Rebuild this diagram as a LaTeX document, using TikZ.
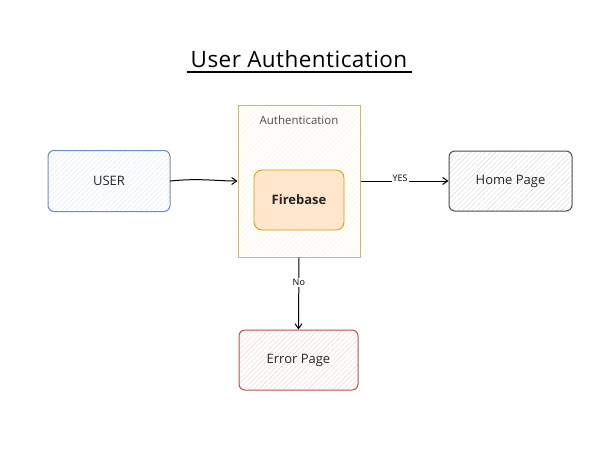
\documentclass[tikz,border=0pt]{standalone}
\usepackage{fontspec}
\setmainfont{Open Sans}
\usetikzlibrary{patterns.meta,arrows.meta}
\definecolor{bluefill}{HTML}{DAE8FC}
\definecolor{blueline}{HTML}{6C8EBF}
\definecolor{yelfill}{HTML}{FFF8E6}
\definecolor{yelline}{HTML}{D6B656}
\definecolor{orfill}{HTML}{FFE6CC}
\definecolor{orline}{HTML}{D79B00}
\definecolor{redfill}{HTML}{F8CECC}
\definecolor{redline}{HTML}{B85450}
\tikzset{
  sketchbox/.style 2 args={draw=#1, line width=1pt, rounded corners=6pt,
    pattern={Lines[angle=45,distance=3.5pt,line width=0.4pt]}, pattern color=#2,
    preaction={fill=white}},
  lbl/.style={font=\fontsize{13}{15}\selectfont, text=black!85},
  conn/.style={line width=1pt, -{Straight Barb[length=5pt,width=7pt]}},
  edgelbl/.style={font=\fontsize{9}{10}\selectfont, fill=white, inner sep=1pt}
}
\begin{document}
\begin{tikzpicture}[x=1pt,y=-1pt]
\useasboundingbox[fill=white] (0,0) rectangle (600,450);
% title
\node (title) at (299,59) {\fontsize{22.5}{26}\selectfont\addfontfeatures{LetterSpace=2} User Authentication};
\draw[line width=1.6pt] (187,72) -- (412,72);
% nodes
\node[sketchbox={blueline}{bluefill}, minimum width=122pt, minimum height=61pt, lbl] (user) at (109,181) {USER};
\node[sketchbox={yelline}{yelfill!60!orfill}, rounded corners=0pt, minimum width=122pt, minimum height=152pt] (auth) at (299,181) {};
\node[text=black!70, font=\fontsize{11.5}{13}\selectfont] (authlbl) at (299,120) {Authentication};
\node[draw=orline, fill=orfill, line width=0.8pt, rounded corners=8pt, minimum width=90pt, minimum height=60pt, font=\fontsize{13}{15}\selectfont\bfseries, text=black!85] (fire) at (299,200) {Firebase};
\node[sketchbox={black!70}{black!15}, minimum width=123pt, minimum height=60pt, lbl] (home) at (510.5,181) {Home Page};
\node[sketchbox={redline}{redfill}, minimum width=119pt, minimum height=60pt, lbl] (err) at (298.5,360) {Error Page};
% connectors
\draw[conn] (user.east) .. controls (200,178) and (215,181) .. (auth.west);
\draw[conn] (auth.east) -- node[edgelbl, pos=0.45, yshift=3pt] {YES} (home.west);
\draw[conn] (auth.south) -- node[edgelbl, pos=0.35] {No} (err.north);
\end{tikzpicture}
\end{document}
